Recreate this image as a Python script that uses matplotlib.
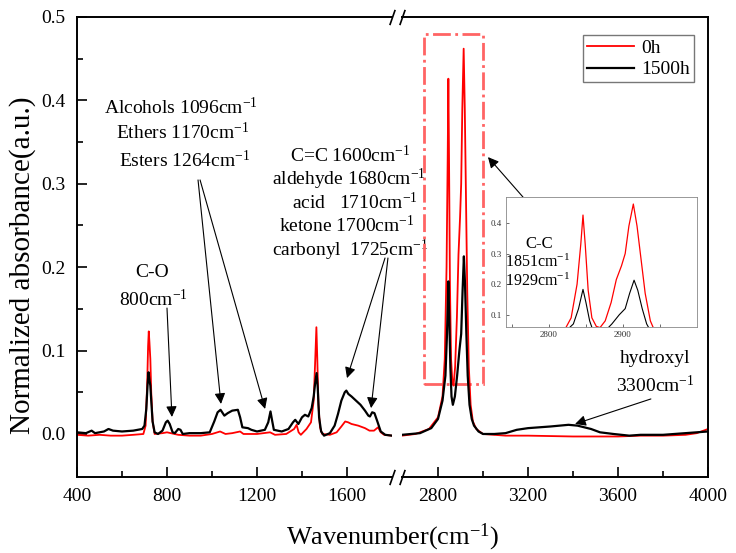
import matplotlib
matplotlib.use('Agg')
import matplotlib.pyplot as plt
from matplotlib.patches import Rectangle

plt.rcParams['font.family'] = ['Liberation Serif', 'DejaVu Serif']
plt.rcParams['mathtext.fontset'] = 'custom'
plt.rcParams['mathtext.rm'] = 'Liberation Serif'
plt.rcParams['mathtext.it'] = 'Liberation Serif:italic'

# spectra: wavenumber (cm-1) and normalized absorbance
wn_low_0h = [400, 450, 500, 550, 600, 650, 695, 705, 712, 716, 719, 722, 726, 730, 736, 745,
             780, 800, 850, 900, 950, 1000, 1036, 1060, 1090, 1125, 1140, 1200, 1258, 1280,
             1330, 1365, 1376, 1385, 1395, 1420, 1440, 1452, 1459, 1464, 1468, 1473, 1480,
             1490, 1524, 1554, 1575, 1592, 1605, 1620, 1650, 1680, 1700, 1720, 1738, 1750,
             1765, 1800]
ab_low_0h = [-0.001, -0.002, -0.001, -0.002, -0.002, -0.001, 0.0, 0.01, 0.06, 0.105, 0.123,
             0.11, 0.09, 0.05, 0.015, 0.0, 0.001, 0.002, -0.001, -0.002, -0.002, 0.0, 0.003,
             0.0, 0.001, 0.003, 0.0, 0.0, 0.002, -0.001, 0.0, 0.006, 0.011, 0.002, -0.001,
             0.006, 0.014, 0.04, 0.09, 0.128, 0.09, 0.035, 0.008, 0.0, -0.001, 0.002, 0.009,
             0.015, 0.014, 0.012, 0.01, 0.007, 0.004, 0.004, 0.008, 0.002, -0.001, -0.002]

wn_low_1500h = [400, 440, 465, 480, 520, 540, 560, 600, 650, 690, 700, 708, 714, 718, 722,
                726, 730, 736, 745, 760, 780, 795, 803, 812, 825, 835, 850, 860, 870, 900,
                950, 990, 1010, 1025, 1038, 1055, 1070, 1090, 1115, 1125, 1135, 1160, 1175,
                1200, 1235, 1250, 1260, 1268, 1275, 1310, 1340, 1360, 1370, 1384, 1400, 1413,
                1428, 1443, 1452, 1458, 1465, 1470, 1476, 1485, 1498, 1524, 1545, 1560, 1575,
                1590, 1597, 1606, 1620, 1640, 1660, 1680, 1695, 1702, 1712, 1722, 1735, 1750,
                1770, 1800]
ab_low_1500h = [0.002, 0.001, 0.004, 0.001, 0.003, 0.006, 0.004, 0.003, 0.004, 0.006, 0.01,
                0.03, 0.06, 0.074, 0.065, 0.058, 0.04, 0.015, 0.002, 0.0, 0.004, 0.014, 0.016,
                0.012, 0.002, 0.001, 0.006, 0.005, 0.0, 0.001, 0.001, 0.002, 0.015, 0.026,
                0.029, 0.022, 0.025, 0.028, 0.029, 0.02, 0.008, 0.007, 0.005, 0.003, 0.005,
                0.014, 0.027, 0.015, 0.005, 0.003, 0.006, 0.014, 0.017, 0.012, 0.02, 0.023,
                0.021, 0.031, 0.045, 0.06, 0.073, 0.055, 0.02, 0.003, -0.002, 0.001, 0.01,
                0.024, 0.04, 0.05, 0.052, 0.048, 0.045, 0.04, 0.035, 0.028, 0.022, 0.021,
                0.026, 0.025, 0.015, 0.003, -0.001, -0.002]

wn_high_0h = [2640, 2700, 2760, 2800, 2820, 2830, 2838, 2843, 2846, 2849, 2853, 2858, 2864,
              2869, 2876, 2884, 2891, 2898, 2903, 2908, 2914, 2919, 2924, 2930, 2937, 2945,
              2955, 2970, 3000, 3100, 3200, 3400, 3600, 3700, 3800, 3900, 3950, 4000]
ab_high_0h = [-0.002, 0.0, 0.006, 0.02, 0.045, 0.09, 0.2, 0.33, 0.426, 0.33, 0.18, 0.09,
              0.062, 0.058, 0.08, 0.14, 0.215, 0.26, 0.3, 0.39, 0.462, 0.39, 0.29, 0.17, 0.08,
              0.035, 0.015, 0.006, 0.0, -0.002, -0.002, -0.003, -0.003, -0.002, -0.002, -0.001,
              0.001, 0.006]

wn_high_1500h = [2640, 2720, 2770, 2800, 2820, 2833, 2840, 2846, 2850, 2855, 2860, 2866, 2875,
                 2885, 2895, 2903, 2909, 2915, 2920, 2926, 2932, 2940, 2950, 2960, 2980, 3000,
                 3050, 3100, 3150, 3200, 3300, 3380, 3420, 3480, 3520, 3580, 3650, 3700, 3800,
                 3900, 4000]
ab_high_1500h = [-0.001, 0.001, 0.007, 0.018, 0.04, 0.07, 0.12, 0.183, 0.14, 0.08, 0.045,
                 0.035, 0.045, 0.07, 0.1, 0.12, 0.17, 0.213, 0.18, 0.12, 0.07, 0.035, 0.018,
                 0.01, 0.003, 0.0, 0.0, 0.001, 0.005, 0.007, 0.009, 0.011, 0.01, 0.006, 0.002,
                 0.0, -0.002, -0.001, -0.001, 0.001, 0.003]

series_labels = ['0h', '1500h']
series_colors = ['#ff0000', '#000000']

fig = plt.figure(figsize=(7.36, 5.53), dpi=100)
ax1 = fig.add_axes([0.1046, 0.1374, 0.428, 0.8319])
ax2 = fig.add_axes([0.5462, 0.1374, 0.4158, 0.8319], sharey=ax1)
ax2.patch.set_visible(False)

ax1.plot(wn_low_0h, ab_low_0h, color=series_colors[0], lw=1.3, label=series_labels[0])
ax1.plot(wn_low_1500h, ab_low_1500h, color=series_colors[1], lw=1.6, label=series_labels[1])
ax2.plot(wn_high_0h, ab_high_0h, color=series_colors[0], lw=1.3, label=series_labels[0])
ax2.plot(wn_high_1500h, ab_high_1500h, color=series_colors[1], lw=1.6, label=series_labels[1])

ax1.set_xlim(400, 1800)
ax2.set_xlim(2640, 4000)
ax1.set_ylim(-0.0516, 0.5)

ax1.set_xticks([400, 800, 1200, 1600])
ax1.set_xticks([600, 1000, 1400], minor=True)
ax2.set_xticks([2800, 3200, 3600, 4000])
ax2.set_xticks([3000, 3400, 3800], minor=True)
ax1.set_yticks([0.0, 0.1, 0.2, 0.3, 0.4, 0.5])
ax1.set_yticks([0.05, 0.15, 0.25, 0.35, 0.45], minor=True)

for ax in (ax1, ax2):
    for s in ax.spines.values():
        s.set_linewidth(1.4)
    ax.tick_params(which='both', direction='in', labelsize=14, pad=8, width=1.2)
    ax.tick_params(which='major', length=7)
    ax.tick_params(which='minor', length=4)
ax1.spines['right'].set_visible(False)
ax2.spines['left'].set_visible(False)
ax2.tick_params(axis='y', which='both', left=False, labelleft=False)

# break marks
kw = dict(marker=[(-0.35, -1), (0.35, 1)], markersize=11, linestyle='none',
          color='k', mec='k', mew=1.2, clip_on=False)
ax1.plot([1, 1], [0, 1], transform=ax1.transAxes, **kw)
ax2.plot([0, 0], [0, 1], transform=ax2.transAxes, **kw)

fig.text(0.533, 1 - 537 / 553, 'Wavenumber(cm$^{-1}$)', fontsize=19, ha='center', va='center')
fig.text(0.03, 1 - 265 / 553, 'Normalized absorbance(a.u.)', fontsize=21, rotation=90,
         ha='center', va='center')

leg = ax2.legend(loc='upper right', bbox_to_anchor=(0.955, 0.96), fontsize=14,
                 frameon=True, fancybox=False, edgecolor='#555555', handlelength=2.4,
                 borderpad=0.2, labelspacing=0.2, handletextpad=0.4, borderaxespad=0)
leg.get_frame().set_linewidth(1.0)

# annotations
fs = 14
tk = dict(fontsize=fs, ha='center', va='center', clip_on=False, zorder=5)
ax1.text(862, 0.392, 'Alcohols 1096cm$^{-1}$', **tk)
ax1.text(871, 0.361, 'Ethers 1170cm$^{-1}$', **tk)
ax1.text(880, 0.3285, 'Esters 1264cm$^{-1}$', **tk)
ax1.text(1613, 0.3345, 'C=C 1600cm$^{-1}$', **tk)
ax1.text(1609, 0.3058, 'aldehyde 1680cm$^{-1}$', **tk)
ax1.text(1636, 0.277, 'acid   1710cm$^{-1}$', **tk)
ax1.text(1600, 0.2494, 'ketone 1700cm$^{-1}$', **tk)
ax1.text(1613, 0.2206, 'carbonyl  1725cm$^{-1}$', **tk)
ax1.text(733, 0.194, 'C-O', **tk)
ax1.text(738, 0.1607, '800cm$^{-1}$', **tk)
ax2.text(3764, 0.0911, 'hydroxyl', **tk)
ax2.text(3764, 0.0576, '3300cm$^{-1}$', **tk)

ap = dict(arrowstyle='-|>', color='k', lw=0.8, mutation_scale=16, shrinkA=0, shrinkB=0)
ax1.annotate('', xy=(822, 0.0204), xytext=(800, 0.151), arrowprops=ap)
ax1.annotate('', xy=(1040, 0.036), xytext=(938, 0.3046), arrowprops=ap)
ax1.annotate('', xy=(1236, 0.03), xytext=(947, 0.3046), arrowprops=ap)
ax1.annotate('', xy=(1600, 0.067), xytext=(1769, 0.211), arrowprops=ap)
ax1.annotate('', xy=(1707, 0.031), xytext=(1782, 0.211), arrowprops=ap)
ax2.annotate('', xy=(3022, 0.332), xytext=(3178, 0.284), arrowprops=ap)
ax2.annotate('', xy=(3409, 0.012), xytext=(3746, 0.042), arrowprops=ap)

# zoom box
ax2.add_patch(Rectangle((2738, 0.06), 262, 0.42, fill=False, edgecolor='#ff6464',
                        linestyle='-.', lw=2))

# inset
axi = fig.add_axes([506 / 736, 1 - 327 / 553, (697 - 506) / 736, (327 - 197) / 553])
axi.plot(wn_high_0h, ab_high_0h, color=series_colors[0], lw=0.9)
axi.plot(wn_high_1500h, ab_high_1500h, color=series_colors[1], lw=0.8)
axi.set_xlim(2742, 3000)
axi.set_ylim(0.06, 0.485)
axi.set_xticks([2800, 2900])
axi.set_xticks([2750, 2850, 2950], minor=True)
axi.set_yticks([0.1, 0.2, 0.3, 0.4])
axi.tick_params(which='both', direction='in', labelsize=6.5, length=2, width=0.5, pad=3,
                colors='#333333')
for s in axi.spines.values():
    s.set_linewidth(0.6)
    s.set_color('#888888')
axi.text(2787, 0.33, 'C-C', fontsize=12, ha='center', va='center')
axi.text(2785, 0.27, '1851cm$^{-1}$', fontsize=11.5, ha='center', va='center')
axi.text(2785, 0.21, '1929cm$^{-1}$', fontsize=11.5, ha='center', va='center')

fig.savefig('out.png', dpi=100)
